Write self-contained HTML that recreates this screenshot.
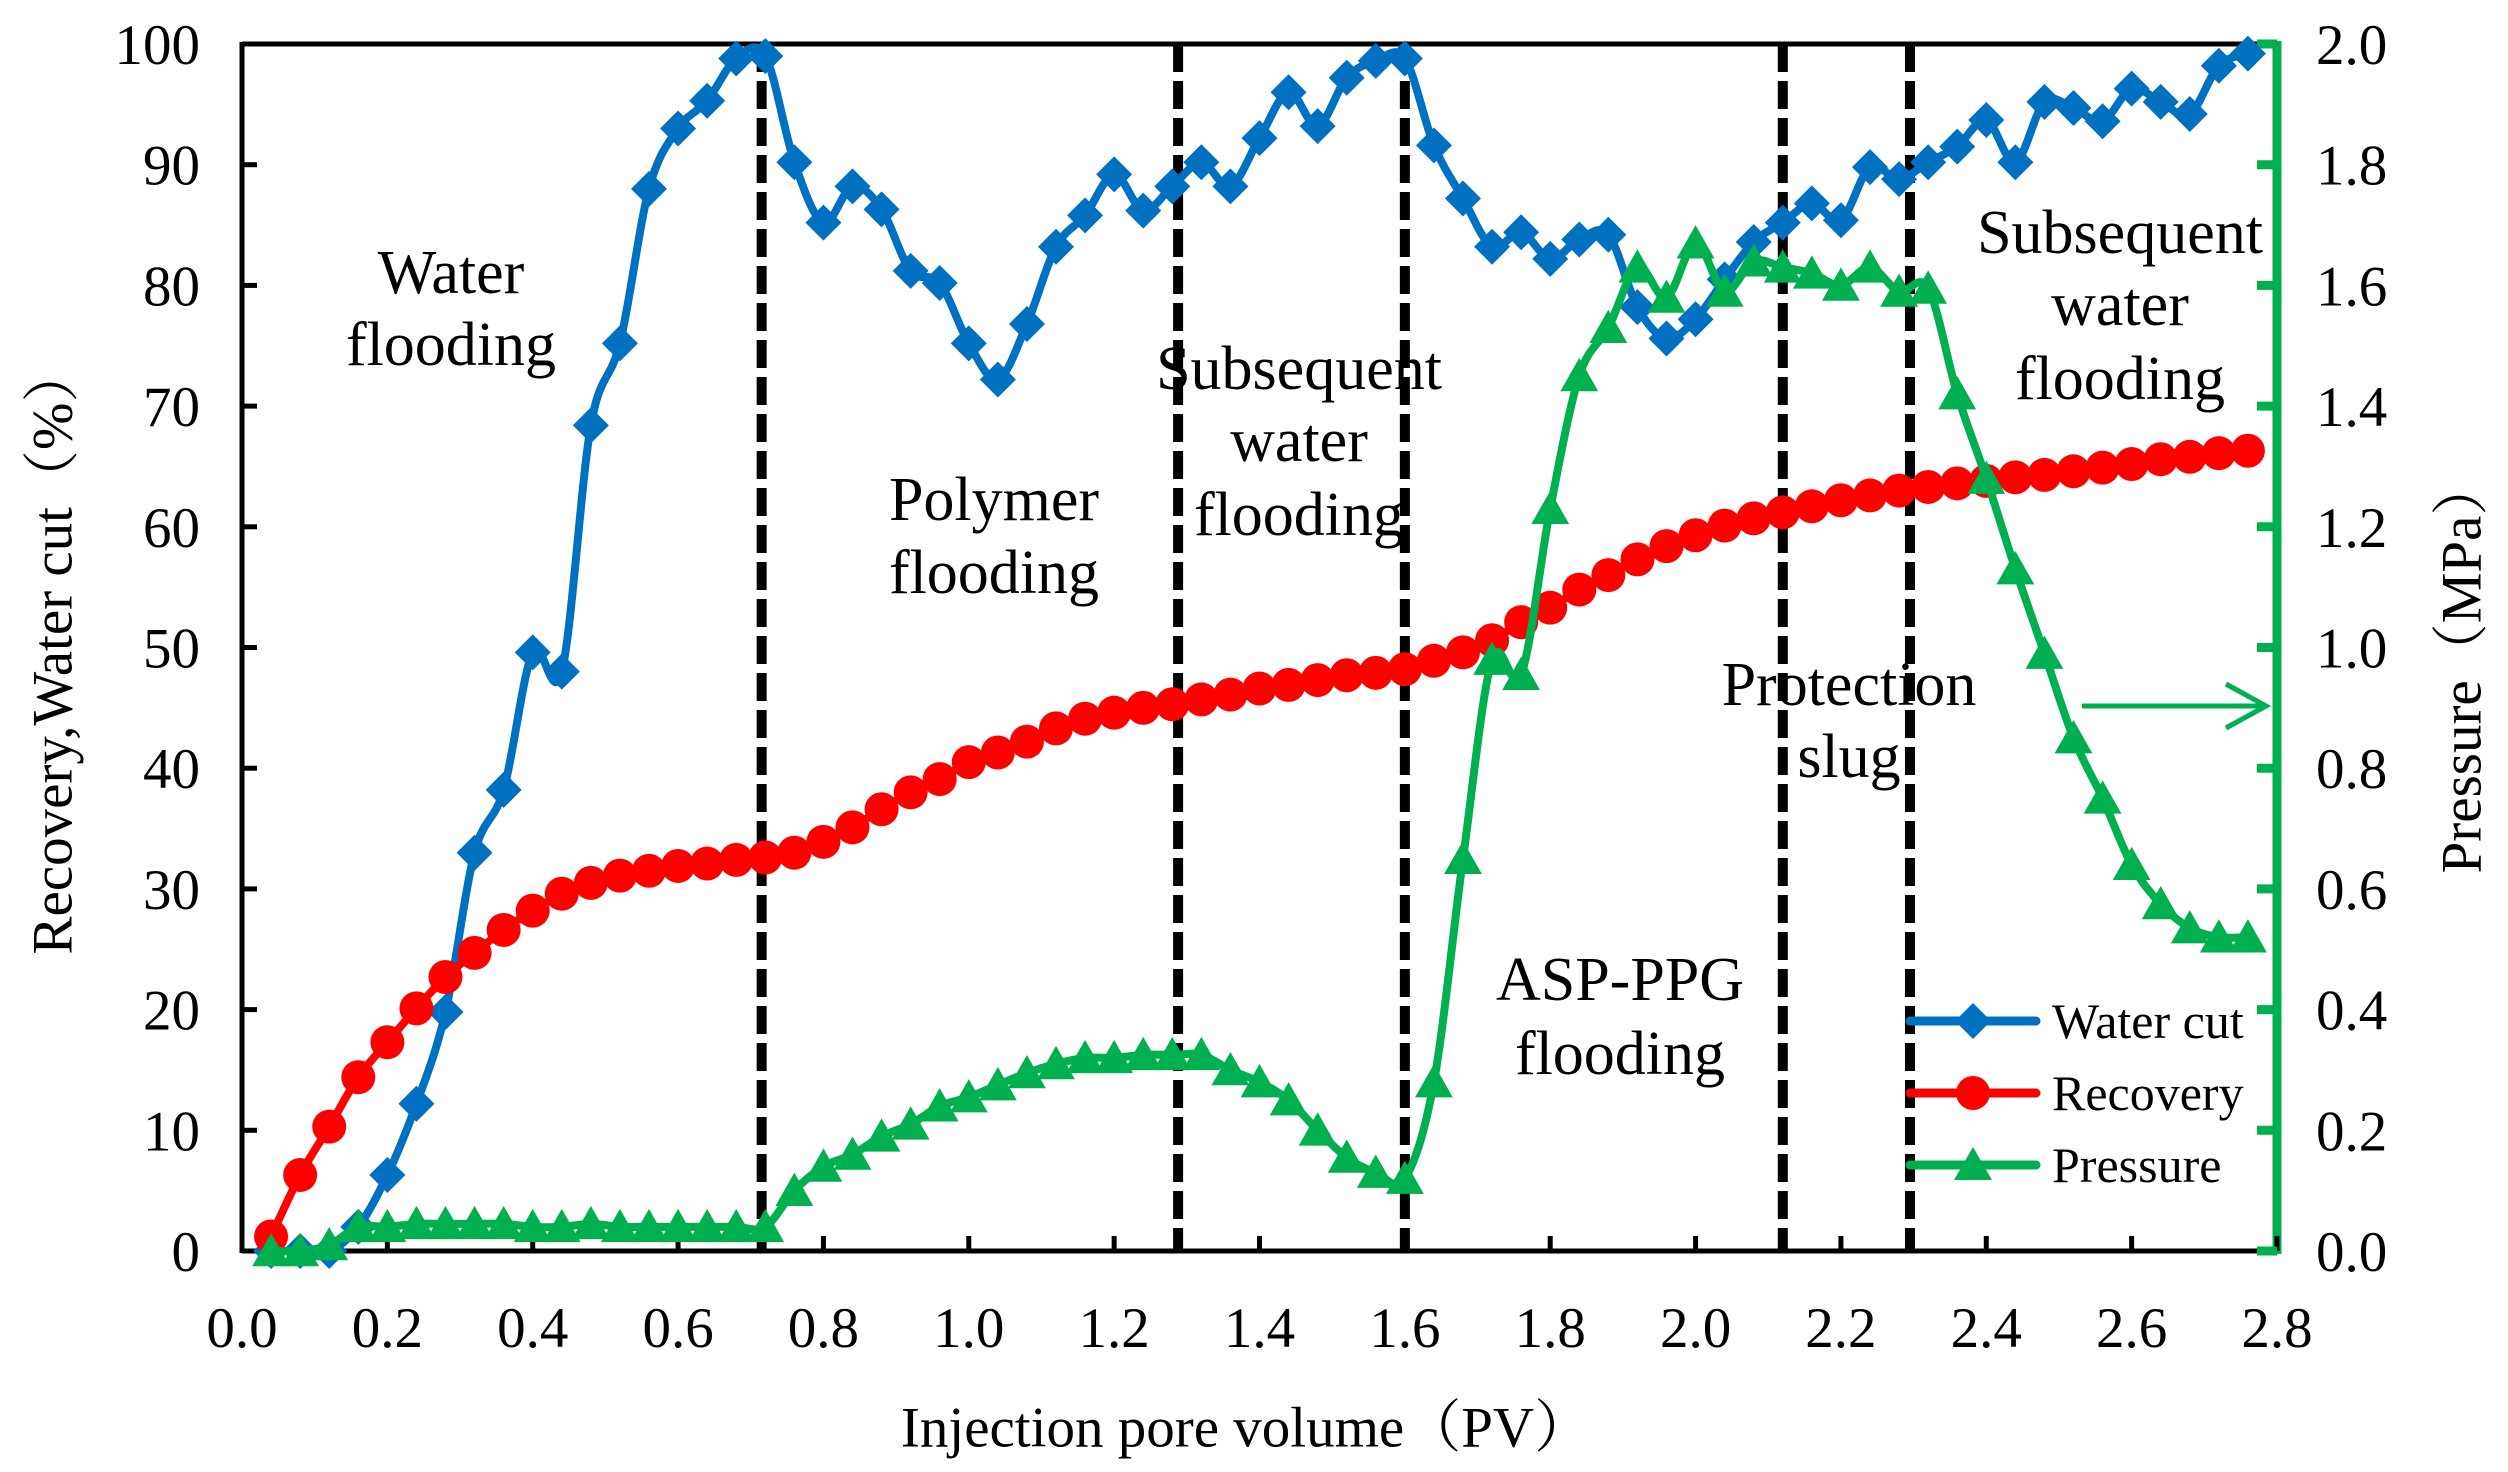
<!DOCTYPE html>
<html><head><meta charset="utf-8"><style>
html,body{margin:0;padding:0;background:#fff;}
svg{display:block;font-family:"Liberation Serif","Noto Serif CJK SC",serif;}
text{font-family:"Liberation Serif","Noto Serif CJK SC",serif;}
</style></head><body>
<svg id="chart" width="2508" height="1472" viewBox="0 0 2508 1472" xmlns="http://www.w3.org/2000/svg">
<g id="grid"></g>
<g id="series"></g>
<g id="labels"></g>
</svg>
<script>
const pv = [0.04,0.08,0.12,0.16,0.20,0.24,0.28,0.32,0.36,0.40,0.44,0.48,0.52,0.56,0.60,0.64,0.68,0.72,0.76,0.80,0.84,0.88,0.92,0.96,1.00,1.04,1.08,1.12,1.16,1.20,1.24,1.28,1.32,1.36,1.40,1.44,1.48,1.52,1.56,1.60,1.64,1.68,1.72,1.76,1.80,1.84,1.88,1.92,1.96,2.00,2.04,2.08,2.12,2.16,2.20,2.24,2.28,2.32,2.36,2.40,2.44,2.48,2.52,2.56,2.60,2.64,2.68,2.72,2.76];
const waterCut = [0,0,0,2,6.3,12.2,19.8,33,38.2,49.6,48,68.4,75.2,88,93,95.3,98.8,99,90.2,85.2,88.2,86.3,81.2,80.2,75.2,72.2,76.8,83.2,85.8,89.2,86.2,88.2,90.2,88.2,92.2,96,93.2,97.2,98.6,98.8,91.6,87.2,83.2,84.4,82.2,83.8,84.2,78.2,75.6,77.2,80.5,83.6,85.2,86.8,85.4,89.8,88.8,90.2,91.5,93.7,90.2,95.2,94.7,93.6,96.3,95.2,94.2,98.2,99.2];
const recovery = [1.2,6.3,10.3,14.4,17.3,20.1,22.7,24.7,26.6,28.2,29.6,30.5,31.1,31.5,31.9,32.1,32.4,32.6,33.0,33.9,35.1,36.6,38.0,39.1,40.5,41.3,42.2,43.3,44.1,44.6,45.0,45.3,45.7,46.1,46.6,46.9,47.3,47.7,47.9,48.2,48.9,49.6,50.6,52.1,53.3,54.8,56.0,57.3,58.4,59.3,60.1,60.7,61.2,61.7,62.2,62.6,63.0,63.3,63.6,63.8,64.1,64.3,64.6,64.9,65.2,65.6,65.8,66.1,66.3];
const pressure = [0,0,0.01,0.04,0.04,0.045,0.045,0.045,0.045,0.04,0.04,0.045,0.04,0.04,0.04,0.04,0.04,0.04,0.10,0.14,0.16,0.19,0.21,0.24,0.255,0.275,0.295,0.31,0.32,0.32,0.325,0.325,0.325,0.30,0.28,0.25,0.20,0.155,0.13,0.12,0.28,0.65,0.98,0.955,1.23,1.45,1.53,1.63,1.58,1.67,1.59,1.64,1.63,1.62,1.60,1.63,1.59,1.595,1.42,1.28,1.13,0.99,0.85,0.75,0.64,0.575,0.535,0.52,0.52];
const stageBounds = [0.715,1.288,1.60,2.12,2.295];
const xTicks = ["0.0","0.2","0.4","0.6","0.8","1.0","1.2","1.4","1.6","1.8","2.0","2.2","2.4","2.6","2.8"];
const yTicks = ["0","10","20","30","40","50","60","70","80","90","100"];
const y2Ticks = ["0.0","0.2","0.4","0.6","0.8","1.0","1.2","1.4","1.6","1.8","2.0"];

const L=242,R=2277,T=44,B=1251;
const X=v=>L+(v/2.8)*(R-L);
const Y=v=>B-(v/100)*(B-T);
const Y2=v=>B-(v/2.0)*(B-T);
const NS="http://www.w3.org/2000/svg";
function mk(tag,attrs,parent){const e=document.createElementNS(NS,tag);for(const k in attrs)e.setAttribute(k,attrs[k]);parent.appendChild(e);return e;}
const grid=document.getElementById('grid'),ser=document.getElementById('series'),lab=document.getElementById('labels');

let e;
e=mk('line',{x1:L,y1:T,x2:R,y2:T,stroke:'#000','stroke-width':5},grid);

e=mk('line',{x1:L,y1:T-2,x2:L,y2:B+2,stroke:'#000','stroke-width':5},grid);

e=mk('line',{x1:L,y1:B,x2:R,y2:B,stroke:'#000','stroke-width':5},grid);

e=mk('line',{x1:R,y1:T-3,x2:R,y2:B+3,stroke:'#00B050','stroke-width':9},grid);


xTicks.forEach((t,i)=>{const v=i*0.2,x=X(v);
 let tk=mk('line',{x1:x,y1:B,x2:x,y2:B-15,stroke:'#000','stroke-width':5},grid);
 
 let tx=mk('text',{x:x,y:1347,'text-anchor':'middle','font-size':57,fill:'#000'},lab);tx.textContent=t;
 });
yTicks.forEach((t,i)=>{const y=Y(i*10);
 let tk=mk('line',{x1:L,y1:y,x2:L+15,y2:y,stroke:'#000','stroke-width':5},grid);
 
 let tx=mk('text',{x:200,y:y+20,'text-anchor':'end','font-size':57,fill:'#000'},lab);tx.textContent=t;
 });
y2Ticks.forEach((t,i)=>{const y=Y2(i*0.2);
 let tk=mk('line',{x1:R,y1:y,x2:R-20,y2:y,stroke:'#00B050','stroke-width':9},grid);
 
 let tx=mk('text',{x:2316,y:y+20,'font-size':57,fill:'#000'},lab);tx.textContent=t;
 });

stageBounds.forEach(v=>{let d=mk('line',{x1:X(v),y1:T,x2:X(v),y2:B,stroke:'#000','stroke-width':10,'stroke-dasharray':'28 9'},grid);
 });

function smooth(pts){let d='M'+pts[0][0]+','+pts[0][1];
 for(let i=0;i<pts.length-1;i++){const p0=pts[Math.max(0,i-1)],p1=pts[i],p2=pts[i+1],p3=pts[Math.min(pts.length-1,i+2)];const k=1/6;
  d+=' C'+(p1[0]+(p2[0]-p0[0])*k)+','+(p1[1]+(p2[1]-p0[1])*k)+' '+(p2[0]-(p3[0]-p1[0])*k)+','+(p2[1]-(p3[1]-p1[1])*k)+' '+p2[0]+','+p2[1];}
 return d;}
function diamond(g,x,y,s,c){return mk('polygon',{points:`${x},${y-s} ${x+s},${y} ${x},${y+s} ${x-s},${y}`,fill:c},g);}
function tri(g,x,y,s,c){return mk('polygon',{points:`${x},${y-s} ${x+s*1.05},${y+s*0.85} ${x-s*1.05},${y+s*0.85}`,fill:c},g);}

let g1=mk('g',{},ser);
let p=mk('path',{d:smooth(pv.map((v,i)=>[X(v),Y(waterCut[i])])),fill:'none',stroke:'#0070C0','stroke-width':8,'stroke-linejoin':'round'},g1);

pv.forEach((v,i)=>{let m=diamond(g1,X(v),Y(waterCut[i]),18,'#0070C0');});
let g2=mk('g',{},ser);
p=mk('path',{d:smooth(pv.map((v,i)=>[X(v),Y(recovery[i])])),fill:'none',stroke:'#FF0000','stroke-width':8},g2);

pv.forEach((v,i)=>{let m=mk('circle',{cx:X(v),cy:Y(recovery[i]),r:17,fill:'#FF0000'},g2);});
let g3=mk('g',{},ser);
p=mk('path',{d:smooth(pv.map((v,i)=>[X(v),Y2(pressure[i])])),fill:'none',stroke:'#00B050','stroke-width':8},g3);

pv.forEach((v,i)=>{let m=tri(g3,X(v),Y2(pressure[i]),18,'#00B050');});
</script>
<script>
(function(){
const svg=document.getElementById('labels');const NS="http://www.w3.org/2000/svg";
function t(x,y,s,txt,name,extra){const e=document.createElementNS(NS,'text');e.setAttribute('x',x);e.setAttribute('y',y);e.setAttribute('font-size',s);e.setAttribute('text-anchor','middle');e.setAttribute('dominant-baseline','central');
 if(extra)for(const k in extra)e.setAttribute(k,extra[k]);e.textContent=txt;svg.appendChild(e);return e;}
let e;
e=t(451,273,62,'Water');
e=t(451,345,62,'flooding');
e=t(994,500,62,'Polymer');
e=t(994,573,62,'flooding');
e=t(1299,369,62,'Subsequent');
e=t(1299,441,62,'water');
e=t(1299,515,62,'flooding');
e=t(1620,980,62,'ASP-PPG');
e=t(1620,1054,62,'flooding');
e=t(1849,685,62,'Protection');
e=t(1849,757,62,'slug');
e=t(2120,233,62,'Subsequent');
e=t(2120,305,62,'water');
e=t(2120,379,62,'flooding');
e=t(1246,1428,57,'Injection pore volume（PV）');
e=t(53,650,57,'Recovery,Water cut（%）',null,{transform:'rotate(-90 53 650)'});
e=t(2462,666,57,'Pressure（MPa）',null,{transform:'rotate(-90 2462 666)'});
const a=document.createElementNS(NS,'path');a.setAttribute('d','M2082,706 L2266,706 M2226,684 L2266,706 L2226,728');a.setAttribute('stroke','#00B050');a.setAttribute('stroke-width',5);a.setAttribute('fill','none');svg.appendChild(a);


const items=[['Water cut','#0070C0','d',1021],['Recovery','#FF0000','c',1093],['Pressure','#00B050','t',1165]];
items.forEach(it=>{const g=document.createElementNS(NS,'g');svg.appendChild(g);
 
 
 const l=document.createElementNS(NS,'line');l.setAttribute('x1',1910);l.setAttribute('x2',2036);l.setAttribute('y1',it[3]);l.setAttribute('y2',it[3]);l.setAttribute('stroke',it[1]);l.setAttribute('stroke-width',9);l.setAttribute('stroke-linecap','round');g.appendChild(l);
 let m;const x=1973,y=it[3];
 if(it[2]==='c'){m=document.createElementNS(NS,'circle');m.setAttribute('cx',x);m.setAttribute('cy',y);m.setAttribute('r',17);}
 else{m=document.createElementNS(NS,'polygon');m.setAttribute('points',it[2]==='d'?`${x},${y-18} ${x+18},${y} ${x},${y+18} ${x-18},${y}`:`${x},${y-18} ${x+19},${y+15} ${x-19},${y+15}`);}
 m.setAttribute('fill',it[1]);g.appendChild(m);
 const tx=document.createElementNS(NS,'text');tx.setAttribute('x',2052);tx.setAttribute('y',y+17);tx.setAttribute('font-size',50);tx.textContent=it[0];g.appendChild(tx);});
})();
</script>
</body></html>
